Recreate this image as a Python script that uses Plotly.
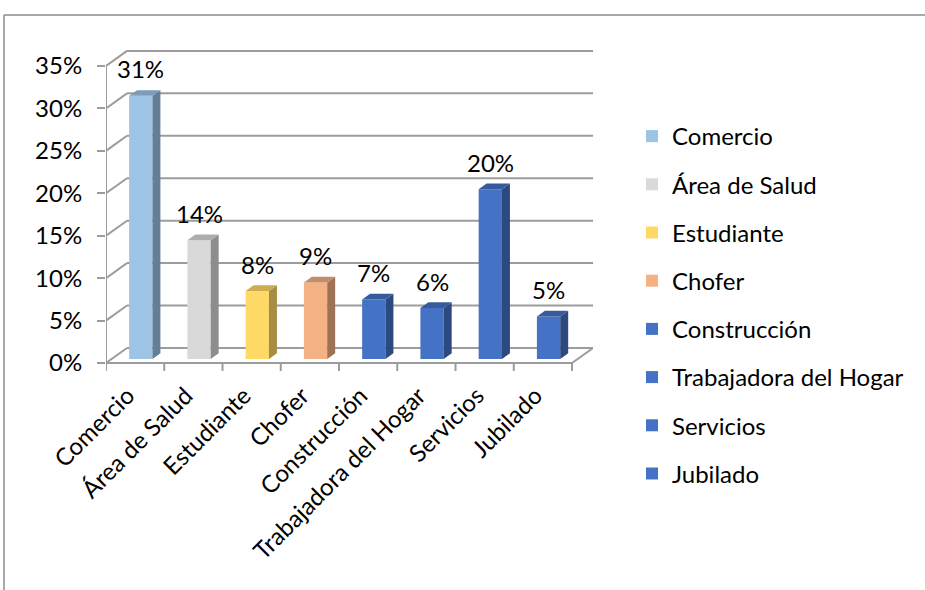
import plotly.graph_objects as go

# Occupation categories and their shares
categorias = ["Comercio", "Área de Salud", "Estudiante", "Chofer",
              "Construcción", "Trabajadora del Hogar", "Servicios", "Jubilado"]
valores = [0.31, 0.14, 0.08, 0.09, 0.07, 0.06, 0.20, 0.05]
colores = ["#9DC3E6", "#D9D9D9", "#FFD966", "#F4B183",
           "#4472C4", "#4472C4", "#4472C4", "#4472C4"]
marcas_y = [0, 0.05, 0.10, 0.15, 0.20, 0.25, 0.30, 0.35]

FONT = "Lato"
TXT = 24
GRID = "#9C9C9C"

# Pseudo-3D geometry, expressed in axis units
DX = 0.36        # depth offset along the category axis
DY = 0.0177      # depth offset along the value axis
D_FRONT = 0.27   # depth of the bar front faces
D_BAR = 0.38     # depth of the bars
BAR_W = 0.40
LABEL_DX = -0.13  # nudge of the rotated category labels
Y_MIN = -0.0094
Y_MAX = 0.3688
X_MIN = -0.5
X_MAX = len(categorias) - 0.5 + DX

W, H = 925, 590
ML, MR, MT, MB = 106, 332, 50, 219
PW, PH = W - ML - MR, H - MT - MB


def shade(hexcol, k):
    h = hexcol.lstrip("#")
    r, g, b = (int(h[i:i + 2], 16) for i in (0, 2, 4))
    return "rgb({},{},{})".format(int(r * k), int(g * k), int(b * k))


def px_x(px):
    return (px - ML) / PW


def px_y(py):
    return (H - MB - py) / PH


fig = go.Figure()
shapes = []
annotations = []

# Back wall gridlines and left wall diagonals
for v in marcas_y:
    shapes.append(dict(type="line", xref="x", yref="y", layer="below",
                       x0=X_MIN + DX, x1=len(categorias) - 0.5 + DX,
                       y0=v + DY, y1=v + DY, line=dict(color=GRID, width=2)))
    shapes.append(dict(type="line", xref="x", yref="y", layer="below",
                       x0=X_MIN, x1=X_MIN + DX, y0=v, y1=v + DY,
                       line=dict(color=GRID, width=2)))

# Front value axis and front floor edge
shapes.append(dict(type="line", xref="x", yref="y", layer="below",
                   x0=X_MIN, x1=X_MIN, y0=0, y1=marcas_y[-1],
                   line=dict(color=GRID, width=2)))
shapes.append(dict(type="line", xref="x", yref="y", layer="below",
                   x0=X_MIN, x1=len(categorias) - 0.5, y0=0, y1=0,
                   line=dict(color=GRID, width=2)))
shapes.append(dict(type="line", xref="x", yref="y", layer="below",
                   x0=len(categorias) - 0.5, x1=len(categorias) - 0.5 + DX,
                   y0=0, y1=DY, line=dict(color=GRID, width=2)))

# Category boundary tick marks under the floor
for k in range(len(categorias) + 1):
    shapes.append(dict(type="line", xref="x", yref="y", layer="below",
                       x0=k - 0.5, x1=k - 0.5, y0=0, y1=Y_MIN,
                       line=dict(color=GRID, width=2)))

# Outer chart frame
shapes.append(dict(type="line", xref="paper", yref="paper",
                   x0=px_x(4), x1=px_x(W), y0=px_y(15), y1=px_y(15),
                   line=dict(color="#8C8C8C", width=1.5)))
shapes.append(dict(type="line", xref="paper", yref="paper",
                   x0=px_x(4), x1=px_x(4), y0=px_y(15), y1=px_y(H),
                   line=dict(color="#8C8C8C", width=1.5)))

for i, (cat, val, col) in enumerate(zip(categorias, valores, colores)):
    xc = i + D_FRONT * DX
    base = D_FRONT * DY
    top = base + val
    xl, xr = xc - BAR_W / 2, xc + BAR_W / 2
    ox, oy = D_BAR * DX, D_BAR * DY

    fig.add_bar(x=[xc], y=[val], base=[base], width=BAR_W,
                marker=dict(color=col, line=dict(width=0)),
                name=cat, legendgroup=cat, hoverinfo="skip")
    # right side face
    fig.add_scatter(x=[xr, xr + ox, xr + ox, xr, xr],
                    y=[base, base + oy, top + oy, top, base],
                    mode="lines", fill="toself", fillcolor=shade(col, 0.65),
                    line=dict(width=0), showlegend=False, hoverinfo="skip")
    # top face
    fig.add_scatter(x=[xl, xr, xr + ox, xl + ox, xl],
                    y=[top, top, top + oy, top + oy, top],
                    mode="lines", fill="toself", fillcolor=shade(col, 0.8),
                    line=dict(width=0), showlegend=False, hoverinfo="skip")

    annotations.append(dict(x=xc, y=top, xref="x", yref="y",
                            text="{:.0%}".format(val), showarrow=False,
                            yanchor="middle", yshift=27,
                            font=dict(family=FONT, size=TXT, color="#000000")))

fig.update_layout(
    width=W, height=H,
    margin=dict(l=ML, r=MR, t=MT, b=MB, pad=0),
    paper_bgcolor="white", plot_bgcolor="white",
    barmode="overlay",
    font=dict(family=FONT, size=TXT, color="#000000"),
    shapes=shapes,
    annotations=annotations,
    showlegend=True,
    legend=dict(x=px_x(632), y=px_y(114), xanchor="left", yanchor="top",
                tracegroupgap=14, itemwidth=30, maxheight=1000,
                font=dict(family=FONT, size=TXT, color="#000000"),
                bgcolor="rgba(0,0,0,0)"),
    xaxis=dict(range=[X_MIN, X_MAX],
               tickvals=[i + LABEL_DX for i in range(len(categorias))],
               ticktext=categorias, tickangle=-45, ticks="",
               showgrid=False, zeroline=False, showline=False,
               ticklabelstandoff=5, fixedrange=True),
    yaxis=dict(range=[Y_MIN, Y_MAX], tickvals=marcas_y, tickformat=".0%",
               ticks="outside", ticklen=8, tickwidth=2, tickcolor=GRID,
               showgrid=False, zeroline=False, showline=False,
               ticklabelstandoff=10, fixedrange=True),
)

fig.write_html("out.html")
